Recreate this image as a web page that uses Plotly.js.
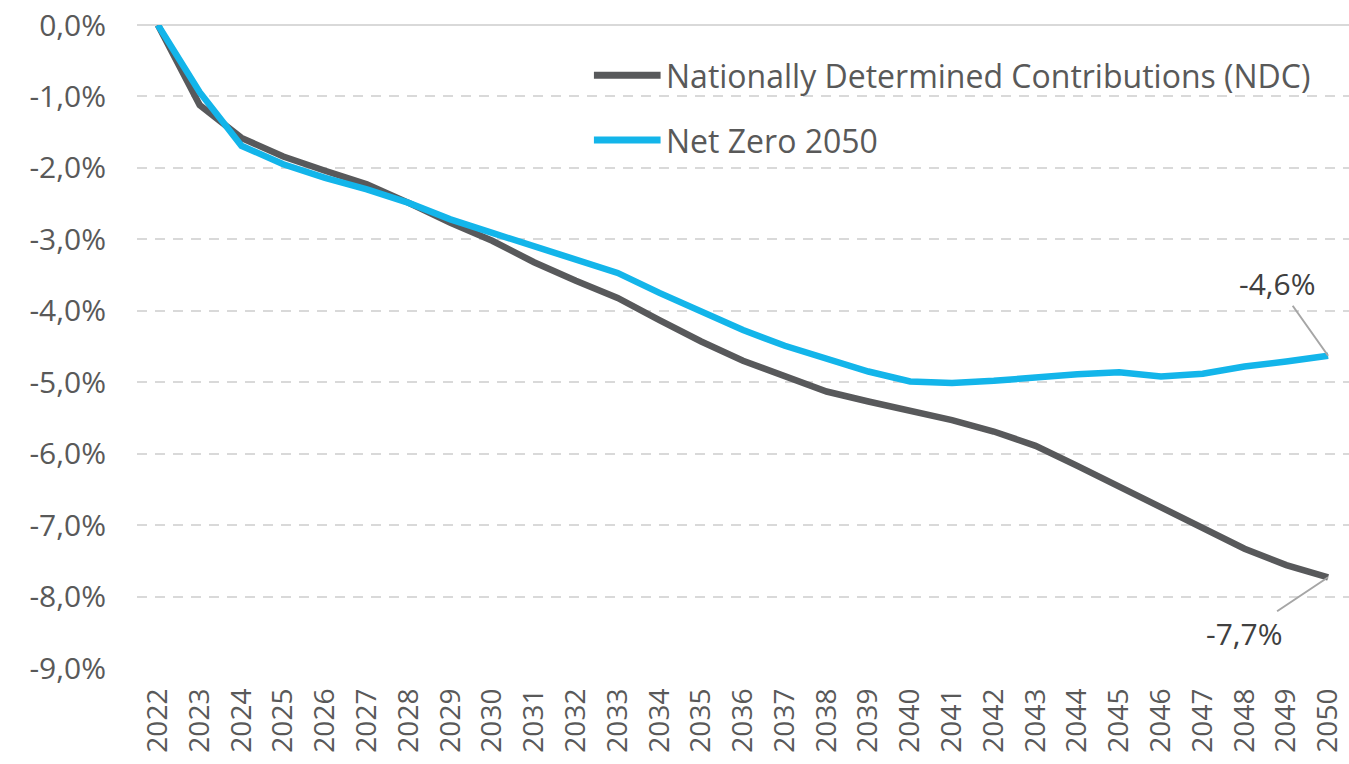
<!DOCTYPE html>
<html>
<head>
<meta charset="utf-8">
<script src="https://cdn.plot.ly/plotly-3.0.1.min.js"></script>
<style>html,body{margin:0;padding:0;background:#fff;}#chart{width:1349px;height:764px;}</style>
</head>
<body>
<div id="chart"></div>
<script>
const years = [2022,2023,2024,2025,2026,2027,2028,2029,2030,2031,2032,2033,2034,2035,2036,2037,2038,2039,2040,2041,2042,2043,2044,2045,2046,2047,2048,2049,2050];
const ndc = [0,-1.12,-1.58,-1.84,-2.04,-2.23,-2.49,-2.77,-3.02,-3.32,-3.58,-3.82,-4.13,-4.43,-4.70,-4.92,-5.13,-5.27,-5.39,-5.53,-5.69,-5.89,-6.17,-6.46,-6.74,-7.05,-7.33,-7.56,-7.73];
const nz = [0,-0.94,-1.69,-1.95,-2.14,-2.30,-2.49,-2.72,-2.91,-3.10,-3.29,-3.47,-3.75,-4.01,-4.27,-4.49,-4.68,-4.85,-4.99,-5.01,-4.98,-4.93,-4.89,-4.86,-4.92,-4.88,-4.78,-4.71,-4.63];
const seriesNames = ["Nationally Determined Contributions (NDC)", "Net Zero 2050"];
const seriesColors = ["#58595B", "#13B5EA"];
const endLabels = ["-7,7%", "-4,6%"];
const yTickVals = [0,-1,-2,-3,-4,-5,-6,-7,-8,-9];
const yTickText = ["0,0%","-1,0%","-2,0%","-3,0%","-4,0%","-5,0%","-6,0%","-7,0%","-8,0%","-9,0%"];

const font = "Open Sans, sans-serif";
const traces = [
  {x: years, y: ndc, type: 'scatter', mode: 'lines', name: seriesNames[0],
   line: {color: seriesColors[0], width: 6.5}, showlegend: false, hoverinfo: 'skip'},
  {x: years, y: nz, type: 'scatter', mode: 'lines', name: seriesNames[1],
   line: {color: seriesColors[1], width: 6.5}, showlegend: false, hoverinfo: 'skip'}
];

const legY = [0.922, 0.821];
const shapes = [];
const annotations = [];
for (let i = 0; i < 2; i++) {
  shapes.push({type: 'line', xref: 'paper', yref: 'paper', x0: 0.377, x1: 0.432, y0: legY[i], y1: legY[i],
    line: {color: seriesColors[i], width: 7}, layer: 'above'});
  annotations.push({xref: 'paper', yref: 'paper', x: 0.435, y: legY[i], xanchor: 'left', yanchor: 'middle',
    text: seriesNames[i], showarrow: false, font: {family: font, size: 32, color: '#595959'}});
}
annotations.push({x: years[years.length-1], y: nz[nz.length-1], xref: 'x', yref: 'y', text: endLabels[1],
  showarrow: true, arrowhead: 0, arrowwidth: 2, arrowcolor: '#A6A6A6', ax: -51, ay: -72,
  font: {family: font, size: 30, color: '#404040'}});
annotations.push({x: years[years.length-1], y: ndc[ndc.length-1], xref: 'x', yref: 'y', text: endLabels[0],
  showarrow: true, arrowhead: 0, arrowwidth: 2, arrowcolor: '#A6A6A6', ax: -84, ay: 56,
  font: {family: font, size: 30, color: '#404040'}});

const layout = {
  width: 1349, height: 764,
  margin: {l: 137, r: 0, t: 25, b: 96},
  paper_bgcolor: '#fff', plot_bgcolor: '#fff',
  showlegend: false,
  font: {family: font, color: '#595959'},
  xaxis: {
    range: [2021.5, 2050.5], tickmode: 'array', tickvals: years, ticktext: years.map(String),
    tickangle: -90, tickfont: {family: font, size: 28, color: '#595959'},
    showgrid: false, zeroline: false, showline: false, ticks: '', ticklabelstandoff: 14, fixedrange: true
  },
  yaxis: {
    range: [-9, 0], tickmode: 'array', tickvals: yTickVals, ticktext: yTickText,
    tickfont: {family: font, size: 30, color: '#595959'},
    showgrid: true, gridcolor: '#D9D9D9', gridwidth: 2, griddash: '10px,8px',
    zeroline: true, zerolinecolor: '#D9D9D9', zerolinewidth: 2,
    showline: false, ticks: '', ticklabelstandoff: 30, fixedrange: true
  },
  shapes: shapes,
  annotations: annotations
};
Plotly.newPlot('chart', traces, layout, {displayModeBar: false, staticPlot: true});
</script>
</body>
</html>
